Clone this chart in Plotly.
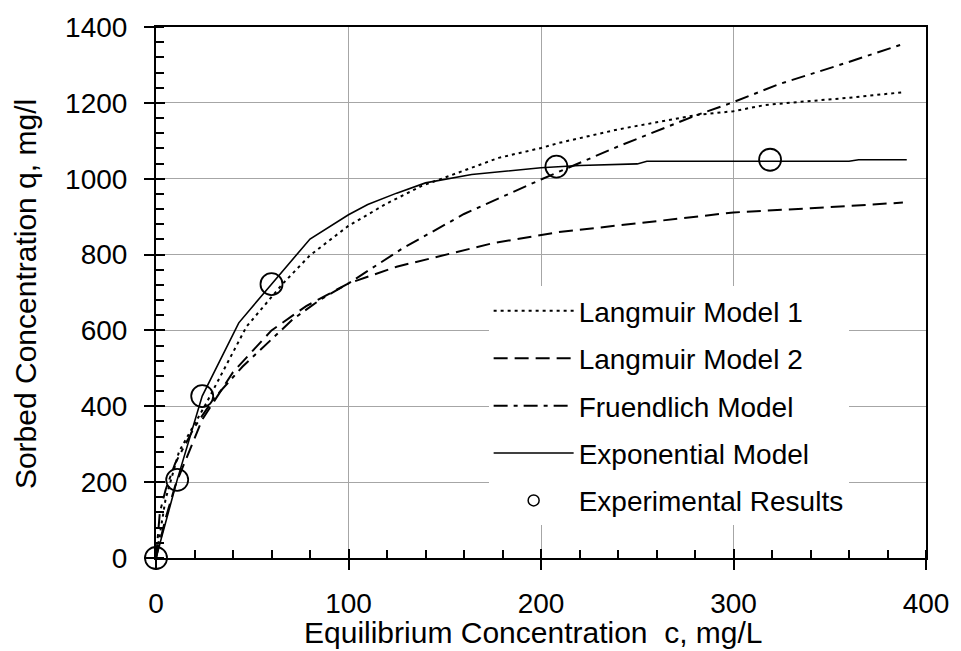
import plotly.graph_objects as go

# Experimental results
exp_c = [0, 11, 24, 60, 208, 319]
exp_q = [0, 206, 427, 722, 1032, 1050]

# Langmuir Model 1 (dotted)
lm1_c = [0, 5, 12, 26, 47, 66, 80, 100, 120, 138, 157, 178, 200, 209, 240, 281, 300, 316, 333, 359, 388]
lm1_q = [0, 156, 281, 407, 610, 724, 798, 876, 935, 981, 1016, 1055, 1081, 1094, 1130, 1168, 1178, 1194, 1202, 1213, 1228]

# Langmuir Model 2 (dashed)
lm2_c = [0, 5, 10, 24, 40, 60, 78, 100, 125, 147, 175, 209, 260, 300, 340, 388]
lm2_q = [0, 105, 191, 365, 490, 600, 664, 724, 768, 795, 830, 859, 889, 911, 922, 937]

# Fruendlich Model (dash-dot)
fr_c = [0, 2, 5, 10, 20, 30, 45, 60, 71, 85, 100, 128, 160, 200, 240, 281, 300, 324, 354, 388]
fr_q = [0, 120, 180, 250, 345, 420, 505, 575, 629, 680, 724, 816, 907, 998, 1085, 1168, 1202, 1250, 1298, 1355]

# Exponential Model (solid)
ex_c = [0, 5, 11, 24, 43, 60, 80, 100, 110, 125, 140, 164, 200, 220, 250, 255, 300, 360, 365, 390]
ex_q = [0, 95, 206, 427, 620, 722, 841, 905, 932, 962, 989, 1011, 1029, 1035, 1039, 1046, 1046, 1046, 1050, 1050]

x_ticks = [0, 100, 200, 300, 400]
y_ticks = [0, 200, 400, 600, 800, 1000, 1200, 1400]

FONT = "Liberation Sans, Arial, sans-serif"

fig = go.Figure()
fig.add_trace(go.Scatter(x=lm1_c, y=lm1_q, mode="lines", name="Langmuir Model 1",
                         legendgroup="a", line=dict(color="black", width=2, dash="3px,4px")))
fig.add_trace(go.Scatter(x=lm2_c, y=lm2_q, mode="lines", name="Langmuir Model 2",
                         legendgroup="b", line=dict(color="black", width=2, dash="14px,7px")))
fig.add_trace(go.Scatter(x=fr_c, y=fr_q, mode="lines", name="Fruendlich Model",
                         legendgroup="c", line=dict(color="black", width=2, dash="14px,6px,4px,6px")))
fig.add_trace(go.Scatter(x=ex_c, y=ex_q, mode="lines", name="Exponential Model",
                         legendgroup="d", line=dict(color="black", width=1.6)))
fig.add_trace(go.Scatter(x=exp_c, y=exp_q, mode="markers", name="Experimental Results",
                         showlegend=False, cliponaxis=False,
                         marker=dict(symbol="circle-open", size=22, color="black",
                                     line=dict(color="black", width=1.8))))
fig.add_trace(go.Scatter(x=[None], y=[None], mode="markers", name="Experimental Results",
                         legendgroup="e",
                         marker=dict(symbol="circle-open", size=11, color="black",
                                     line=dict(color="black", width=1.5))))
# helper trace for overlay tick axes
fig.add_trace(go.Scatter(x=[None], y=[None], xaxis="x2", yaxis="y2", showlegend=False,
                         hoverinfo="skip"))

fig.update_layout(
    width=961, height=651,
    margin=dict(l=156, r=31, t=21, b=93),
    paper_bgcolor="white", plot_bgcolor="white",
    font=dict(family=FONT, color="black", size=28),
    showlegend=True,
    legend=dict(x=0.432, y=0.512, xanchor="left", yanchor="top",
                bgcolor="white", borderwidth=0,
                font=dict(family=FONT, size=28, color="black"),
                tracegroupgap=8, itemwidth=80),
    xaxis=dict(range=[0, 400], tickvals=x_ticks,
               showgrid=True, gridcolor="#a6a6a6", gridwidth=1,
               showline=True, linecolor="black", linewidth=2, mirror=True,
               ticks="outside", ticklen=10, tickwidth=2, tickcolor="black",
               minor=dict(dtick=20, ticks="inside", ticklen=8, tickwidth=1.5,
                          tickcolor="black", showgrid=False),
               tickfont=dict(size=28), ticklabelstandoff=9, zeroline=False),
    yaxis=dict(range=[0, 1400], tickvals=y_ticks,
               showgrid=True, gridcolor="#a6a6a6", gridwidth=1,
               showline=True, linecolor="black", linewidth=2, mirror=True,
               ticks="outside", ticklen=10, tickwidth=2, tickcolor="black",
               minor=dict(dtick=40, ticks="inside", ticklen=8, tickwidth=1.5,
                          tickcolor="black", showgrid=False),
               tickfont=dict(size=28), ticklabelstandoff=11, zeroline=False),
    xaxis2=dict(range=[0, 400], overlaying="x", anchor="y", side="bottom",
                tickvals=x_ticks, ticks="inside", ticklen=9,
                tickwidth=2, tickcolor="black", showticklabels=False,
                showgrid=False, showline=False, zeroline=False),
    yaxis2=dict(range=[0, 1400], overlaying="y", anchor="x", side="left",
                tickvals=y_ticks, ticks="inside",
                ticklen=9, tickwidth=2, tickcolor="black", showticklabels=False,
                showgrid=False, showline=False, zeroline=False),
    annotations=[
        dict(text="Equilibrium Concentration  c, mg/L", xref="paper", yref="paper",
             x=0.49, y=0, xanchor="center", yanchor="middle", yshift=-74,
             showarrow=False, font=dict(family=FONT, size=30, color="black")),
        dict(text="Sorbed Concentration q, mg/l", xref="paper", yref="paper",
             x=0, y=0.497, xanchor="center", yanchor="middle", xshift=-131,
             textangle=-90, showarrow=False,
             font=dict(family=FONT, size=30, color="black")),
    ],
)

fig.write_html("out.html")
